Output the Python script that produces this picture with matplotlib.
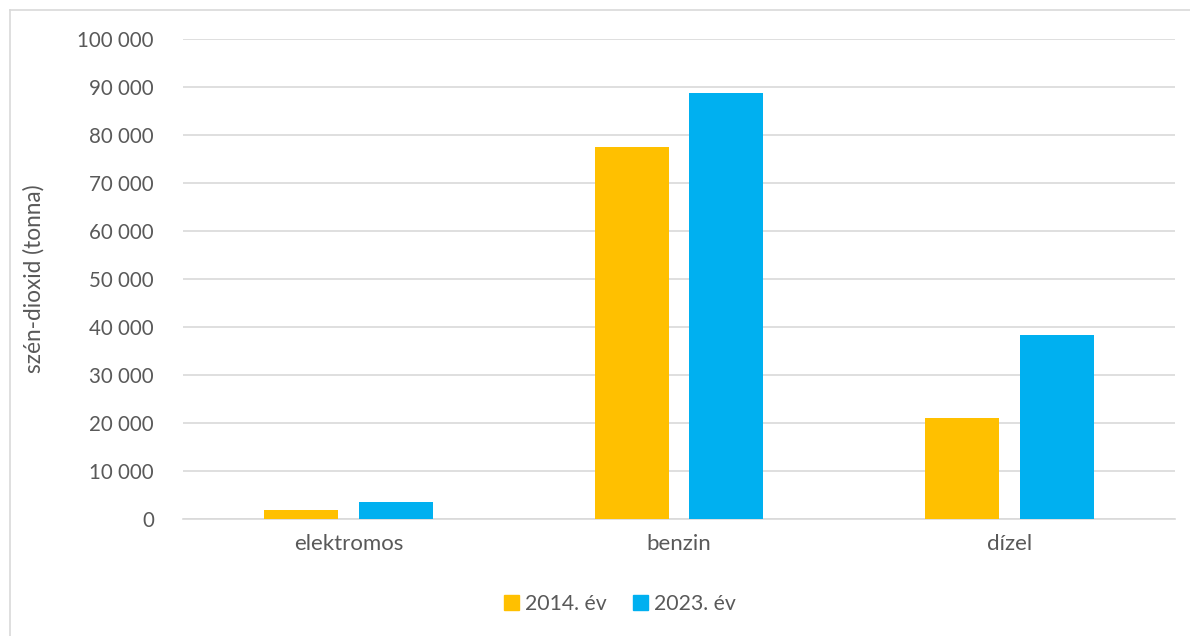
import matplotlib
matplotlib.use("Agg")
import matplotlib.pyplot as plt
from matplotlib.lines import Line2D
from matplotlib.patches import Patch
import numpy as np

categories = ["elektromos", "benzin", "dízel"]
series_names = ["2014. év", "2023. év"]
values_2014 = [1900, 77600, 21000]
values_2023 = [3500, 88700, 38300]
colors = ["#FFC000", "#00B0F0"]
y_ticks = list(range(0, 100001, 10000))
y_tick_labels = [f"{v:,}".replace(",", " ") for v in y_ticks]

plt.rcParams['font.family'] = ['Lato', 'DejaVu Sans']
text_color = "#595959"
grid_color = "#D9D9D9"

fig = plt.figure(figsize=(11.9, 6.36), dpi=100)
ax = fig.add_axes([183/1190, 1-519/636, (1175-183)/1190, (519-39)/636])

x = np.arange(len(categories))
w = 0.224
off = 0.143
ax.bar(x - off, values_2014, width=w, color=colors[0], label=series_names[0], zorder=3)
ax.bar(x + off, values_2023, width=w, color=colors[1], label=series_names[1], zorder=3)

ax.set_xlim(-0.5, 2.5)
ax.set_ylim(0, 100000)
ax.set_yticks(y_ticks)
ax.set_yticklabels(y_tick_labels)
ax.set_xticks(x)
ax.set_xticklabels(categories)
ax.tick_params(axis='y', length=0, pad=21, labelsize=14.8, labelcolor=text_color)
ax.tick_params(axis='x', length=0, pad=11, labelsize=16, labelcolor=text_color)
ax.grid(axis='y', color=grid_color, linewidth=1.2, zorder=0)
for s in ['top', 'right', 'left']:
    ax.spines[s].set_visible(False)
ax.spines['bottom'].set_color(grid_color)
ax.spines['bottom'].set_linewidth(1.2)
ax.set_ylabel("szén-dioxid (tonna)", fontsize=16.3, color=text_color)
ax.yaxis.set_label_coords(-(183-45)/992, 0.5)

handles = [Patch(color=colors[0]), Patch(color=colors[1])]
fig.legend(handles, series_names, loc='center', bbox_to_anchor=(620/1190, 1-604/636),
           ncol=2, frameon=False, fontsize=15.3, labelcolor=text_color,
           handlelength=0.7, handleheight=0.7, handletextpad=0.3, columnspacing=1.2)

# chart border (left and top only visible)
fig.add_artist(Line2D([10/1190, 10/1190], [0, 1-10/636], transform=fig.transFigure, color=grid_color, linewidth=1.2))
fig.add_artist(Line2D([10/1190, 1], [1-10/636, 1-10/636], transform=fig.transFigure, color=grid_color, linewidth=1.2))

fig.savefig("out.png", dpi=100, facecolor="white")
